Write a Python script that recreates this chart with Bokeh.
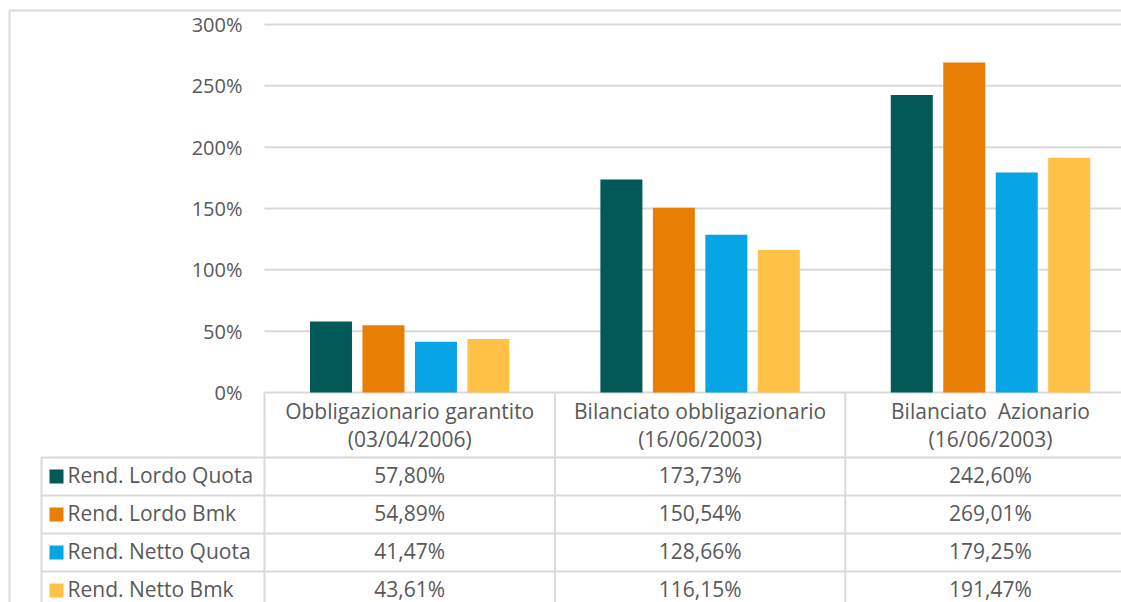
from bokeh.plotting import figure
from bokeh.models import Range1d
from bokeh.core.properties import value
from bokeh.embed import file_html
from bokeh.resources import INLINE

# ---------------- data ----------------
categories = ["Obbligazionario garantito", "Bilanciato obbligazionario", "Bilanciato  Azionario"]
dates = ["(03/04/2006)", "(16/06/2003)", "(16/06/2003)"]
series = ["Rend. Lordo Quota", "Rend. Lordo Bmk", "Rend. Netto Quota", "Rend. Netto Bmk"]
lordo_quota = [57.80, 173.73, 242.60]
lordo_bmk = [54.89, 150.54, 269.01]
netto_quota = [41.47, 128.66, 179.25]
netto_bmk = [43.61, 116.15, 191.47]
y_ticks = [0, 50, 100, 150, 200, 250, 300]

values = [lordo_quota, lordo_bmk, netto_quota, netto_bmk]
colors = ["#025A58", "#E87E04", "#07A4E6", "#FFC247"]

# ---------------- style / layout ----------------
FONT = value("Open Sans")
TXT = "#595959"
GRID = "#d9d9d9"
AX_FS = "20px"
FS = "21px"
W, H = 1121, 602
PX_CAT = 290.4              # pixels per category
PX_PER_PCT = 368 / 300.0    # pixels per percentage point


def xpix(px):
    return (px - 264) / PX_CAT


def ypix(py):
    return (392 - py) / PX_PER_PCT


p = figure(width=W, height=H, output_backend="svg", toolbar_location=None,
           x_range=Range1d(xpix(0), xpix(W)), y_range=Range1d(ypix(H), ypix(0)),
           x_axis_location=None, y_axis_location=None,
           min_border_left=0, min_border_right=0, min_border_top=0, min_border_bottom=0,
           outline_line_color=None, background_fill_color="white",
           border_fill_color="white")
p.xgrid.visible = False
p.ygrid.visible = False

x_end = xpix(W) + 0.2
n = len(series)
nc = len(categories)

# horizontal gridlines (value axis)
p.segment(x0=[0] * len(y_ticks), y0=y_ticks, x1=[x_end] * len(y_ticks), y1=y_ticks,
          line_color=GRID, line_width=2)
# value-axis tick labels
p.text(x=[xpix(242)] * len(y_ticks), y=y_ticks, text=[f"{v}%" for v in y_ticks],
       text_align="right", text_baseline="middle", text_font=FONT,
       text_font_size=AX_FS, text_color=TXT)

# bars
step = 0.1807
bw = 0.1446
for j, (vals, col) in enumerate(zip(values, colors)):
    xs = [i + 0.5 + (j - (n - 1) / 2) * step for i in range(nc)]
    p.vbar(x=xs, top=vals, bottom=0, width=bw, fill_color=col, line_color=None)

# ---------------- outer chart border ----------------
xb = xpix(9)
yb = ypix(10)
bottom = ypix(700)
p.segment(x0=[xb, xb], y0=[yb, yb], x1=[x_end, xb], y1=[yb, bottom],
          line_color=GRID, line_width=2)

# ---------------- data table ----------------
row_top_px = [457 + 38 * r for r in range(n)]
row_y = [ypix(v) for v in row_top_px]
x_tab_left = xpix(41)

# vertical lines at category boundaries
p.segment(x0=list(range(nc + 1)), y0=[0] * (nc + 1), x1=list(range(nc + 1)),
          y1=[bottom] * (nc + 1), line_color=GRID, line_width=2)
# table left border
p.segment(x0=[x_tab_left], y0=[row_y[0]], x1=[x_tab_left], y1=[bottom],
          line_color=GRID, line_width=2)
# horizontal row lines
p.segment(x0=[x_tab_left] * n, y0=row_y, x1=[x_end] * n, y1=row_y,
          line_color=GRID, line_width=2)

# header texts (keep the double space visible in SVG)
shown_categories = [c.replace("  ", " \u00a0") for c in categories]
cx = [i + 0.5 for i in range(nc)]
p.text(x=cx, y=[ypix(410)] * nc, text=shown_categories, text_align="center",
       text_baseline="middle", text_font=FONT, text_font_size=FS, text_color=TXT)
p.text(x=cx, y=[ypix(438)] * nc, text=dates, text_align="center",
       text_baseline="middle", text_font=FONT, text_font_size=FS, text_color=TXT)

# table rows
for r, (name, vals, col) in enumerate(zip(series, values, colors)):
    yc = ypix(row_top_px[r] + 17)
    p.scatter(x=[xpix(56)], y=[ypix(row_top_px[r] + 19)], marker="square", size=14,
              fill_color=col, line_color=None)
    p.text(x=[xpix(67)], y=[yc], text=[name], text_align="left", text_baseline="middle",
           text_font=FONT, text_font_size=FS, text_color=TXT)
    labels = [f"{v:.2f}".replace(".", ",") + "%" for v in vals]
    p.text(x=cx, y=[yc] * nc, text=labels, text_align="center", text_baseline="middle",
           text_font=FONT, text_font_size=FS, text_color=TXT)

open("out.html", "w").write(file_html(p, INLINE))
